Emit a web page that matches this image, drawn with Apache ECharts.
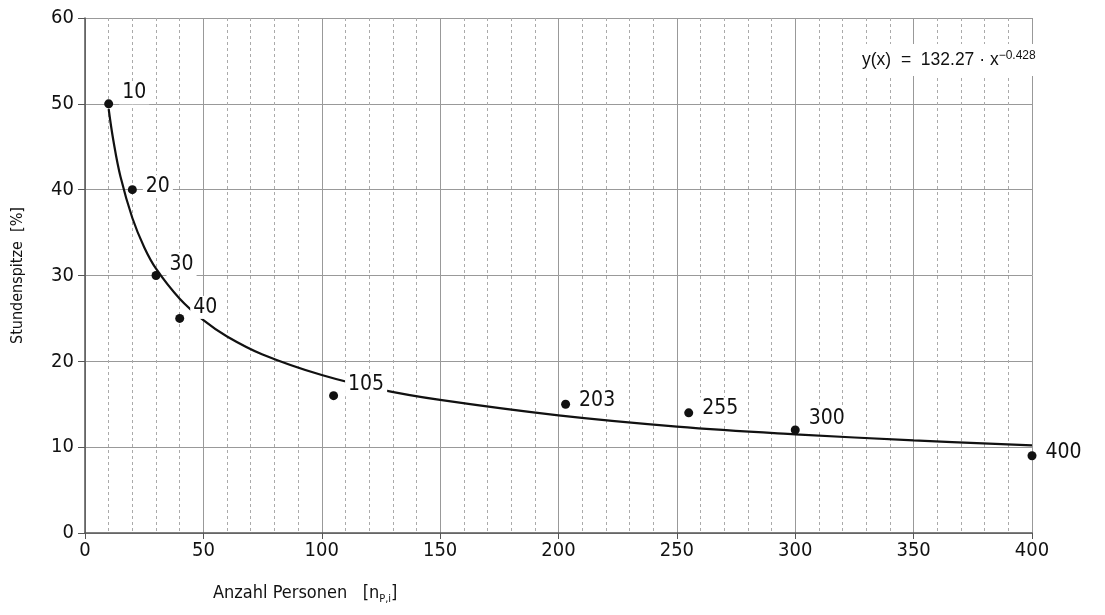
<!DOCTYPE html>
<html><head><meta charset="utf-8">
<script src="https://cdn.jsdelivr.net/npm/echarts@6/dist/echarts.min.js"></script>
<style>html,body{margin:0;padding:0;background:#fff}#c{width:1105px;height:615px}</style>
</head><body><div id="c"></div>
<script>
// Measured points (Anzahl Personen, Stundenspitze %)
const pointX = [10, 20, 30, 40, 105, 203, 255, 300, 400];
const pointY = [50, 40, 30, 25, 16, 15, 14, 12, 9];
const pointLabels = ['10', '20', '30', '40', '105', '203', '255', '300', '400'];
// Fitted curve
const curveX = [10, 12, 15, 20, 25, 30, 40, 50, 60, 75, 100, 125, 150, 200, 250, 300, 350, 400];
const curveY = [49.4, 45.7, 41.5, 36.7, 33.3, 30.8, 27.3, 24.8, 22.9, 20.8, 18.4, 16.7, 15.5, 13.7, 12.4, 11.5, 10.8, 10.2];
const xTicks = [0, 50, 100, 150, 200, 250, 300, 350, 400];
const yTicks = [0, 10, 20, 30, 40, 50, 60];

const FONT = "'DejaVu Sans Condensed', 'Liberation Sans Narrow', 'Open Sans', sans-serif";
const EQFONT = "'Liberation Sans', sans-serif";
const labelOffsets = [[1,-11],[1,-3],[1,-11],[1,-11],[2,-11],[1,-4],[1,-4],[1,-11],[1,-3]];

const chart = echarts.init(document.getElementById('c'), null, {renderer: 'canvas'});
chart.setOption({
  animation: false,
  grid: {left: 85, right: 73, top: 18, bottom: 82, show: false},
  xAxis: {
    type: 'value', min: 0, max: 400, interval: 50,
    axisLine: {show: true, lineStyle: {color: '#555', width: 1.5}},
    axisTick: {show: true, length: 6, lineStyle: {color: '#555'}},
    axisLabel: {color: '#111', fontSize: 20, fontFamily: FONT, margin: 8},
    splitLine: {show: true, lineStyle: {color: '#999', width: 1}},
    minorTick: {show: false, splitNumber: 5},
    minorSplitLine: {show: true, lineStyle: {color: '#aaa', type: [3, 3], width: 1}}
  },
  yAxis: {
    type: 'value', min: 0, max: 60, interval: 10,
    axisLine: {show: true, lineStyle: {color: '#555', width: 1.5}},
    axisTick: {show: true, length: 7, lineStyle: {color: '#555'}},
    axisLabel: {color: '#111', fontSize: 20, fontFamily: FONT, margin: 11},
    splitLine: {show: true, lineStyle: {color: '#999', width: 1}},
    name: 'Stundenspitze  [%]', nameLocation: 'middle', nameGap: 59,
    nameTextStyle: {color: '#111', fontSize: 16, fontFamily: FONT}
  },
  series: [
    {
      type: 'line', data: curveX.map((x, i) => [x, curveY[i]]),
      smooth: 0.4, showSymbol: false, symbol: 'none',
      lineStyle: {color: '#111', width: 2.2}, z: 2, silent: true
    },
    {
      type: 'scatter', symbolSize: 9,
      itemStyle: {color: '#111', opacity: 1}, z: 3,
      emphasis: {disabled: true},
      data: pointX.map((x, i) => ({
        value: [x, pointY[i]],
        label: {
          show: true, formatter: pointLabels[i], position: 'right',
          offset: labelOffsets[i], color: '#111', opacity: 1, fontSize: 21, fontFamily: FONT,
          backgroundColor: '#fff', padding: [1, 3, 1, 3]
        }
      }))
    }
  ],
  graphic: [
    {
      type: 'text', left: 852, top: 44, z: 10,
      style: {
        text: '{n|y(x)  =  132.27 · x}{s|−0.428}',
        backgroundColor: '#fff', padding: [6, 10, 6, 10],
        rich: {
          n: {fontSize: 17.5, fontFamily: EQFONT, fill: '#111', color: '#111'},
          s: {fontSize: 12, fontFamily: EQFONT, fill: '#111', color: '#111', verticalAlign: 'top', padding: [0, 0, 8, 0]}
        }
      }
    },
    {
      type: 'text', left: 213, top: 584, z: 10,
      style: {
        text: '{n|Anzahl Personen   [n}{s|P,i}{n|]}',
        rich: {
          n: {fontSize: 18, fontFamily: FONT, fill: '#111', color: '#111'},
          s: {fontSize: 11, fontFamily: FONT, fill: '#111', color: '#111', padding: [12, 0, 0, 0]}
        }
      }
    }
  ]
});
</script></body></html>
